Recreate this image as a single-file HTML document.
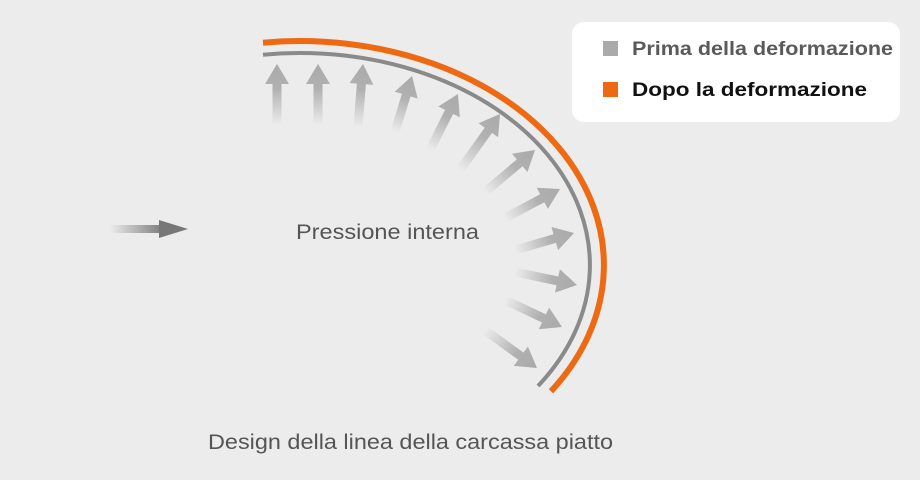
<!DOCTYPE html>
<html><head><meta charset="utf-8"><style>
body{margin:0;background:#ececec;}
svg{display:block;}
text{font-family:"Liberation Sans",sans-serif;}
</style></head><body>
<svg id="s" width="920" height="480" viewBox="0 0 920 480" xmlns="http://www.w3.org/2000/svg">
<rect width="920" height="480" fill="#ececec"/>
<defs id="d">
<linearGradient id="lg" gradientUnits="userSpaceOnUse" x1="110" y1="0" x2="165" y2="0">
<stop offset="0" stop-color="#777" stop-opacity="0"/><stop offset="1" stop-color="#777"/></linearGradient>
</defs>
<g id="arrows"></g>
<path d="M263 54.7 A290 212 0 0 1 538 386" fill="none" stroke="#8a8a8a" stroke-width="4"/>
<path d="M263 42.7 A304 224 0 0 1 551 391.3" fill="none" stroke="#ee6a12" stroke-width="6"/>
<rect x="110" y="225" width="52" height="8" fill="url(#lg)"/>
<polygon points="159,220 188,229 159,238" fill="#777"/>
<text x="296" y="239" font-size="21" fill="#555" textLength="183" lengthAdjust="spacingAndGlyphs">Pressione interna</text>
<text x="208" y="449" font-size="21" fill="#555" textLength="405" lengthAdjust="spacingAndGlyphs">Design della linea della carcassa piatto</text>
<rect x="572" y="22" width="328" height="100" rx="12" fill="#fff"/>
<rect x="603" y="41" width="15" height="15" fill="#aaa"/>
<text x="632" y="55" font-size="19" font-weight="bold" fill="#5a5a5a" textLength="261" lengthAdjust="spacingAndGlyphs">Prima della deformazione</text>
<rect x="603" y="82" width="15" height="15" fill="#ee6a12"/>
<text x="632" y="96" font-size="19" font-weight="bold" fill="#111" textLength="235" lengthAdjust="spacingAndGlyphs">Dopo la deformazione</text>
</svg>
<script>
var A=[[277,125,277,64],[318,125,318,64],[358,127,363,64],[395,132,412,76],[430,150,458,94],[460,170,500,114],[485,192,535,150],[505,218,560,189],[515,250,574,233],[515,272,577,285],[505,300,562,327],[485,330,537,368]];
var ns="http://www.w3.org/2000/svg",g=document.getElementById('arrows'),d=document.getElementById('d');
A.forEach(function(a,i){
var x1=a[0],y1=a[1],x2=a[2],y2=a[3],dx=x2-x1,dy=y2-y1,L=Math.hypot(dx,dy),ux=dx/L,uy=dy/L,px=-uy,py=ux;
var lg=document.createElementNS(ns,'linearGradient');lg.setAttribute('id','g'+i);lg.setAttribute('gradientUnits','userSpaceOnUse');
lg.setAttribute('x1',x1);lg.setAttribute('y1',y1);lg.setAttribute('x2',x2);lg.setAttribute('y2',y2);
lg.innerHTML='<stop offset="0" stop-color="#aaa" stop-opacity="0"/><stop offset="0.6" stop-color="#aaa" stop-opacity="0.9"/><stop offset="1" stop-color="#aaa"/>';
d.appendChild(lg);
var hl=20,hw=12,sw=4.5,bx=x2-ux*hl,by=y2-uy*hl;
var pts=[[x1+px*sw,y1+py*sw],[bx+px*sw,by+py*sw],[bx+px*hw,by+py*hw],[x2,y2],[bx-px*hw,by-py*hw],[bx-px*sw,by-py*sw],[x1-px*sw,y1-py*sw]];
var p=document.createElementNS(ns,'polygon');p.setAttribute('points',pts.map(function(q){return q[0].toFixed(1)+','+q[1].toFixed(1)}).join(' '));
p.setAttribute('fill','url(#g'+i+')');g.appendChild(p);
});
</script>
</body></html>
